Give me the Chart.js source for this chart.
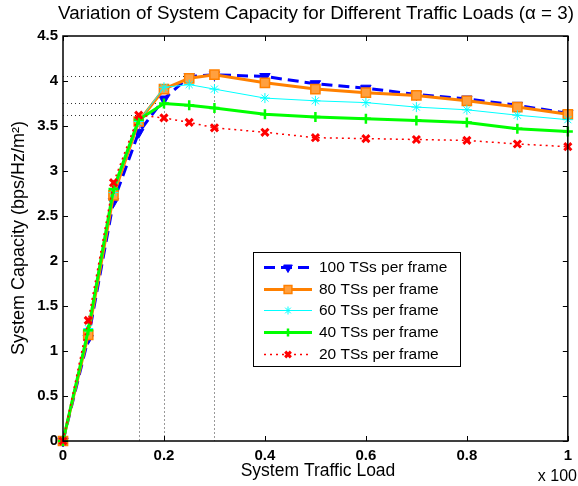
<!DOCTYPE html>
<html>
<head>
<meta charset="utf-8">
<script src="https://cdn.jsdelivr.net/npm/chart.js@4.4.0/dist/chart.umd.min.js"></script>
<style>
  html, body { margin: 0; padding: 0; background: #fff; }
  #wrap { width: 578px; height: 486px; }
</style>
</head>
<body>
<div id="wrap"><canvas id="chart" width="578" height="486"></canvas></div>
<script>
// === data ===
const loads = [0, 0.05, 0.1, 0.15, 0.2, 0.25, 0.3, 0.4, 0.5, 0.6, 0.7, 0.8, 0.9, 1.0];
const cap100 = [0, 1.14, 2.66, 3.43, 3.80, 4.05, 4.07, 4.05, 3.97, 3.92, 3.85, 3.80, 3.73, 3.64];
const cap80  = [0, 1.18, 2.73, 3.55, 3.91, 4.03, 4.07, 3.98, 3.91, 3.87, 3.84, 3.78, 3.71, 3.63];
const cap60  = [0, 1.25, 2.76, 3.55, 3.93, 3.96, 3.91, 3.81, 3.78, 3.76, 3.71, 3.68, 3.62, 3.57];
const cap40  = [0, 1.23, 2.80, 3.57, 3.75, 3.73, 3.70, 3.63, 3.60, 3.58, 3.56, 3.54, 3.47, 3.44];
const cap20  = [0, 1.34, 2.87, 3.62, 3.59, 3.54, 3.48, 3.43, 3.37, 3.36, 3.35, 3.34, 3.30, 3.27];
const seriesNames = ['100 TSs per frame', '80 TSs per frame', '60 TSs per frame', '40 TSs per frame', '20 TSs per frame'];
const xTicks = [0, 0.2, 0.4, 0.6, 0.8, 1];
const xTickLabels = ['0', '0.2', '0.4', '0.6', '0.8', '1'];
const yTicks = [0, 0.5, 1, 1.5, 2, 2.5, 3, 3.5, 4, 4.5];
const yTickLabels = ['0', '0.5', '1', '1.5', '2', '2.5', '3', '3.5', '4', '4.5'];
// peak markers (dotted guide lines)
const peakLoads = [0.15, 0.2, 0.3];
const peakCaps = [3.62, 3.75, 4.06];

const FONT = "'Liberation Sans', Arial, Helvetica, sans-serif";

function pts(ys) {
  return loads.map((x, i) => ({ x, y: ys[i] }));
}

// MATLAB style box, inward ticks, titles, guide lines and legend
const matlabFrame = {
  id: 'matlabFrame',
  beforeDatasetsDraw(chart) {
    const { ctx, chartArea: a, scales: { x, y } } = chart;
    ctx.save();
    ctx.strokeStyle = '#333';
    ctx.lineWidth = 1;
    ctx.setLineDash([1, 3]);
    peakLoads.forEach((px, i) => {
      const xp = Math.round(x.getPixelForValue(px)) + 0.5;
      const yp = Math.round(y.getPixelForValue(peakCaps[i])) + 0.5;
      ctx.beginPath();
      ctx.moveTo(a.left, yp);
      ctx.lineTo(xp, yp);
      ctx.moveTo(xp, yp);
      ctx.lineTo(xp, a.bottom);
      ctx.stroke();
    });
    ctx.restore();
  },
  afterDraw(chart) {
    const { ctx, chartArea: a, scales: { x, y } } = chart;
    ctx.save();
    ctx.strokeStyle = '#000';
    ctx.lineWidth = 1.5;
    ctx.strokeRect(a.left, a.top, a.right - a.left, a.bottom - a.top);
    ctx.lineWidth = 1;
    const tl = 5;
    ctx.beginPath();
    xTicks.forEach(v => {
      const p = Math.round(x.getPixelForValue(v)) + 0.5;
      ctx.moveTo(p, a.bottom); ctx.lineTo(p, a.bottom - tl);
      ctx.moveTo(p, a.top); ctx.lineTo(p, a.top + tl);
    });
    yTicks.forEach(v => {
      const p = Math.round(y.getPixelForValue(v)) + 0.5;
      ctx.moveTo(a.left, p); ctx.lineTo(a.left + tl, p);
      ctx.moveTo(a.right, p); ctx.lineTo(a.right - tl, p);
    });
    ctx.stroke();

    // titles
    ctx.fillStyle = '#000';
    ctx.textAlign = 'center';
    ctx.textBaseline = 'middle';
    ctx.font = '18.8px ' + FONT;
    ctx.fillText('Variation of System Capacity for Different Traffic Loads (\u03B1 = 3)', 316, 14);
    ctx.font = '17.5px ' + FONT;
    ctx.fillText('System Traffic Load', 318, 471);
    ctx.textAlign = 'right';
    ctx.font = '16px ' + FONT;
    ctx.fillText('x 100', 577, 477);

    ctx.save();
    ctx.translate(19, 238);
    ctx.rotate(-Math.PI / 2);
    ctx.textAlign = 'center';
    ctx.font = '18px ' + FONT;
    ctx.fillText('System Capacity (bps/Hz/m\u00B2)', 0, 0);
    ctx.restore();

    // legend
    const lx = 253, ly = 252, lw = 207, lh = 114;
    ctx.fillStyle = '#fff';
    ctx.fillRect(lx, ly, lw, lh);
    ctx.strokeStyle = '#000';
    ctx.lineWidth = 1;
    ctx.strokeRect(lx + 0.5, ly + 0.5, lw, lh);
    chart.data.datasets.forEach((ds, i) => {
      const ry = Math.round(ly + 15 + i * 21.7) + 0.5;
      ctx.save();
      ctx.strokeStyle = ds.borderColor;
      ctx.lineWidth = ds.borderWidth;
      ctx.setLineDash(ds.borderDash || []);
      ctx.beginPath();
      ctx.moveTo(264, ry);
      ctx.lineTo(312, ry);
      ctx.stroke();
      ctx.setLineDash([]);
      ctx.fillStyle = ds.pointBackgroundColor;
      ctx.strokeStyle = ds.pointBorderColor;
      ctx.lineWidth = ds.pointBorderWidth;
      Chart.helpers.drawPoint(ctx, {
        pointStyle: ds.pointStyle,
        rotation: ds.pointRotation || 0,
        radius: ds.pointRadius - 1,
        borderWidth: ds.pointBorderWidth
      }, 288, ry);
      ctx.restore();
      ctx.fillStyle = '#000';
      ctx.textAlign = 'left';
      ctx.textBaseline = 'middle';
      ctx.font = '15.5px ' + FONT;
      ctx.fillText(seriesNames[i], 319, ry);
    });
    ctx.restore();
  }
};

new Chart(document.getElementById('chart'), {
  type: 'line',
  data: {
    datasets: [
      {
        label: seriesNames[0], data: pts(cap100), order: 5,
        borderColor: '#0000ff', borderWidth: 3, borderDash: [11, 6],
        pointStyle: 'triangle', pointRadius: 6,  pointRotation: 180,
        pointBackgroundColor: '#0000ff', pointBorderColor: '#0000ff', pointBorderWidth: 1
      },
      {
        label: seriesNames[1], data: pts(cap80), order: 4,
        borderColor: '#ff8000', borderWidth: 3,
        pointStyle: 'rect', pointRadius: 6.5,
        pointBackgroundColor: '#ffa040', pointBorderColor: '#ff8000', pointBorderWidth: 1.5
      },
      {
        label: seriesNames[2], data: pts(cap60), order: 3,
        borderColor: '#00ffff', borderWidth: 1,
        pointStyle: 'star', pointRadius: 5,
        pointBackgroundColor: '#00ffff', pointBorderColor: '#00ffff', pointBorderWidth: 1
      },
      {
        label: seriesNames[3], data: pts(cap40), order: 2,
        borderColor: '#00ff00', borderWidth: 3,
        pointStyle: 'cross', pointRadius: 5,
        pointBackgroundColor: '#00ff00', pointBorderColor: '#00ff00', pointBorderWidth: 2.5
      },
      {
        label: seriesNames[4], data: pts(cap20), order: 1,
        borderColor: '#ff0000', borderWidth: 1.5, borderDash: [2, 4],
        pointStyle: 'crossRot', pointRadius: 5,
        pointBackgroundColor: '#ff0000', pointBorderColor: '#ff0000', pointBorderWidth: 3
      }
    ].map(d => Object.assign({ fill: false, tension: 0, clip: false, pointHoverRadius: d.pointRadius }, d))
  },
  options: {
    responsive: false,
    animation: false,
    devicePixelRatio: 1,
    layout: { padding: { top: 36, right: 3, left: 0, bottom: 0 } },
    scales: {
      x: {
        type: 'linear', min: 0, max: 1,
        grid: { display: false, drawTicks: false }, border: { display: false },
        afterFit(s) { s.height = 45; },
        afterBuildTicks(s) { s.ticks = xTicks.map(v => ({ value: v })); },
        ticks: {
          padding: 6, color: '#000', maxRotation: 0, autoSkip: false,
          font: { family: FONT, size: 15, weight: 'bold' },
          callback: (v) => xTickLabels[xTicks.indexOf(v)]
        }
      },
      y: {
        type: 'linear', min: 0, max: 4.5,
        grid: { display: false, drawTicks: false }, border: { display: false },
        afterFit(s) { s.width = 63; },
        afterBuildTicks(s) { s.ticks = yTicks.map(v => ({ value: v })); },
        ticks: {
          padding: 5, color: '#000', autoSkip: false,
          font: { family: FONT, size: 15, weight: 'bold' },
          callback: (v) => yTickLabels[yTicks.indexOf(v)]
        }
      }
    },
    plugins: {
      legend: { display: false },
      title: { display: false },
      tooltip: { enabled: false }
    }
  },
  plugins: [matlabFrame]
});
</script>
</body>
</html>
